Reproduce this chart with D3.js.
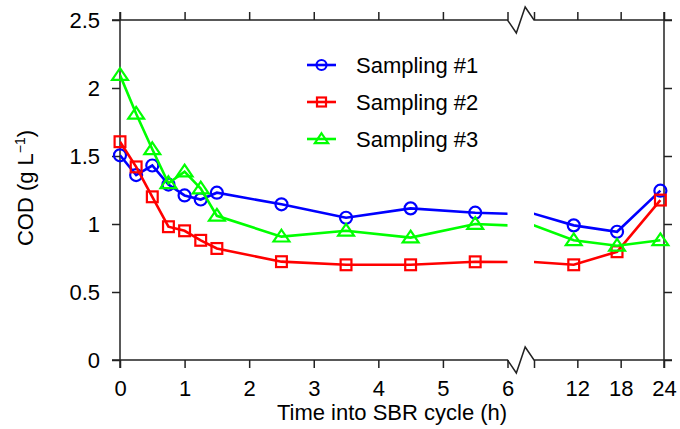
<!DOCTYPE html>
<html>
<head>
<meta charset="utf-8">
<script src="https://d3js.org/d3.v7.min.js"></script>
<style>
  body { margin: 0; background: #fff; }
  text { font-family: "Liberation Sans", Arial, sans-serif; }
</style>
</head>
<body>
<div id="chart"></div>
<script>
// data
var times = [0, 0.25, 0.5, 0.75, 1, 1.25, 1.5, 2.5, 3.5, 4.5, 5.5, 11.5, 17.5, 23.5];
var sampling1 = [1.505, 1.36, 1.43, 1.29, 1.21, 1.18, 1.23, 1.145, 1.046, 1.115, 1.083, 0.99, 0.943, 1.245];
var sampling2 = [1.605, 1.42, 1.20, 0.98, 0.95, 0.88, 0.82, 0.723, 0.70, 0.70, 0.722, 0.70, 0.796, 1.176];
var sampling3 = [2.095, 1.81, 1.55, 1.30, 1.385, 1.26, 1.06, 0.907, 0.95, 0.90, 1.0, 0.88, 0.84, 0.88];
var seriesNames = ["Sampling #1", "Sampling #2", "Sampling #3"];
var seriesColors = ["#0000ff", "#ff0000", "#00ff00"];
var seriesMarkers = ["circle", "square", "triangle"];
var xTicksLeft = [0, 1, 2, 3, 4, 5, 6];
var xTicksRight = [6, 12, 18, 24];
var yTicks = [0, 0.5, 1, 1.5, 2, 2.5];

var W = 680, H = 429;
var plotTop = 20, plotBottom = 360, plotLeft = 120, plotRight = 664;
var breakL = 507.5, breakR = 534;
var fontSize = "22px";

var svg = d3.select("#chart").append("svg")
  .attr("width", W).attr("height", H);

// two x scales: 0-6 h and 6-24 h, with a break between them
var xL = d3.scaleLinear().domain([0, 6]).range([plotLeft, breakL]);
var xR = d3.scaleLinear().domain([6, 24]).range([breakR, plotRight]);
var y = d3.scaleLinear().domain([0, 2.5]).range([plotBottom, plotTop]);

var defs = svg.append("defs");
defs.append("clipPath").attr("id", "clipL").append("rect")
  .attr("x", plotLeft).attr("y", 0).attr("width", breakL - plotLeft).attr("height", H);
defs.append("clipPath").attr("id", "clipR").append("rect")
  .attr("x", breakR).attr("y", 0).attr("width", plotRight - breakR).attr("height", H);

var axisColor = "#222";
var tickLen = 8;

// axes
function styleAxis(g) {
  g.select(".domain").remove();
  g.selectAll("line").attr("stroke", axisColor).attr("stroke-width", 1.5);
  g.selectAll("text").attr("fill", "#000").style("font-size", fontSize)
    .style("font-family", '"Liberation Sans", Arial, sans-serif');
}

svg.append("g").attr("transform", "translate(0," + plotBottom + ")")
  .call(d3.axisBottom(xL).tickValues(xTicksLeft).tickSize(tickLen).tickPadding(12).tickFormat(d3.format("d")))
  .call(styleAxis);
svg.append("g").attr("transform", "translate(0," + plotBottom + ")")
  .call(d3.axisBottom(xR).tickValues(xTicksRight).tickSize(tickLen).tickPadding(12)
    .tickFormat(function (d) { return d === 6 ? "" : d; }))
  .call(styleAxis);
svg.append("g").attr("transform", "translate(0," + plotTop + ")")
  .call(d3.axisTop(xL).tickValues(xTicksLeft).tickSize(tickLen).tickFormat(""))
  .call(styleAxis);
svg.append("g").attr("transform", "translate(0," + plotTop + ")")
  .call(d3.axisTop(xR).tickValues(xTicksRight).tickSize(tickLen).tickFormat(""))
  .call(styleAxis);
svg.append("g").attr("transform", "translate(" + plotLeft + ",0)")
  .call(d3.axisLeft(y).tickValues(yTicks).tickSize(tickLen).tickPadding(12).tickFormat(function (d) { return d; }))
  .call(styleAxis);
svg.append("g").attr("transform", "translate(" + plotRight + ",0)")
  .call(d3.axisRight(y).tickValues(yTicks).tickSize(tickLen).tickFormat(""))
  .call(styleAxis);

// frame with zigzag breaks
var frame = svg.append("g").attr("fill", "none").attr("stroke", axisColor).attr("stroke-width", 1.5);
var zig = 13, zx1 = breakL + (breakR - breakL) / 3, zx2 = breakL + 2 * (breakR - breakL) / 3;
[plotTop, plotBottom].forEach(function (yy) {
  frame.append("path").attr("d", d3.line()([
    [plotLeft - tickLen, yy], [breakL, yy], [zx1, yy + zig], [zx2, yy - zig], [breakR, yy], [plotRight + tickLen, yy]
  ]));
});
frame.append("line").attr("x1", plotLeft).attr("x2", plotLeft).attr("y1", plotTop - tickLen).attr("y2", plotBottom + tickLen);
frame.append("line").attr("x1", plotRight).attr("x2", plotRight).attr("y1", plotTop - tickLen).attr("y2", plotBottom + tickLen);

// series
var allSeries = [sampling1, sampling2, sampling3];
var symbolFor = {
  circle: function (g, cx, cy, c, s) {
    g.append("circle").attr("cx", cx).attr("cy", cy).attr("r", s)
      .attr("fill", "none").attr("stroke", c).attr("stroke-width", 2.2);
  },
  square: function (g, cx, cy, c, s) {
    g.append("rect").attr("x", cx - s * 0.9).attr("y", cy - s * 0.9)
      .attr("width", s * 1.8).attr("height", s * 1.8)
      .attr("fill", "none").attr("stroke", c).attr("stroke-width", 2.2);
  },
  triangle: function (g, cx, cy, c, s) {
    var h = s * 1.15;
    g.append("path").attr("d", d3.line()([[cx, cy - h], [cx + h * 1.15, cy + h * 0.7], [cx - h * 1.15, cy + h * 0.7]]) + "Z")
      .attr("fill", "none").attr("stroke", c).attr("stroke-width", 2.2);
  }
};

allSeries.forEach(function (vals, i) {
  var pts = times.map(function (t, j) { return { t: t, v: vals[j] }; });
  [[xL, "clipL"], [xR, "clipR"]].forEach(function (pair) {
    var sx = pair[0];
    svg.append("path").datum(pts)
      .attr("clip-path", "url(#" + pair[1] + ")")
      .attr("fill", "none").attr("stroke", seriesColors[i]).attr("stroke-width", 2.6)
      .attr("d", d3.line().x(function (d) { return sx(d.t); }).y(function (d) { return y(d.v); }));
  });
  var mg = svg.append("g");
  pts.forEach(function (d) {
    var sx = d.t <= 6 ? xL : xR;
    symbolFor[seriesMarkers[i]](mg, sx(d.t), y(d.v), seriesColors[i], 6);
  });
});

// legend
var legend = svg.append("g");
seriesNames.forEach(function (name, i) {
  var ly = 65 + i * 37;
  legend.append("line").attr("x1", 307).attr("x2", 336).attr("y1", ly).attr("y2", ly)
    .attr("stroke", seriesColors[i]).attr("stroke-width", 2.6);
  symbolFor[seriesMarkers[i]](legend, 321.5, ly, seriesColors[i], 5);
  legend.append("text").attr("x", 356).attr("y", ly).attr("dy", "0.35em")
    .style("font-size", fontSize).text(name);
});

// axis titles
svg.append("text").attr("x", (plotLeft + plotRight) / 2).attr("y", 420)
  .attr("text-anchor", "middle").style("font-size", fontSize)
  .text("Time into SBR cycle (h)");

var yl = svg.append("text").attr("transform", "translate(33,188) rotate(-90)")
  .attr("text-anchor", "middle").style("font-size", fontSize);
yl.append("tspan").text("COD (g L");
yl.append("tspan").attr("dy", -8).style("font-size", "14px").text("\u22121");
yl.append("tspan").attr("dy", 8).text(")");
</script>
</body>
</html>
